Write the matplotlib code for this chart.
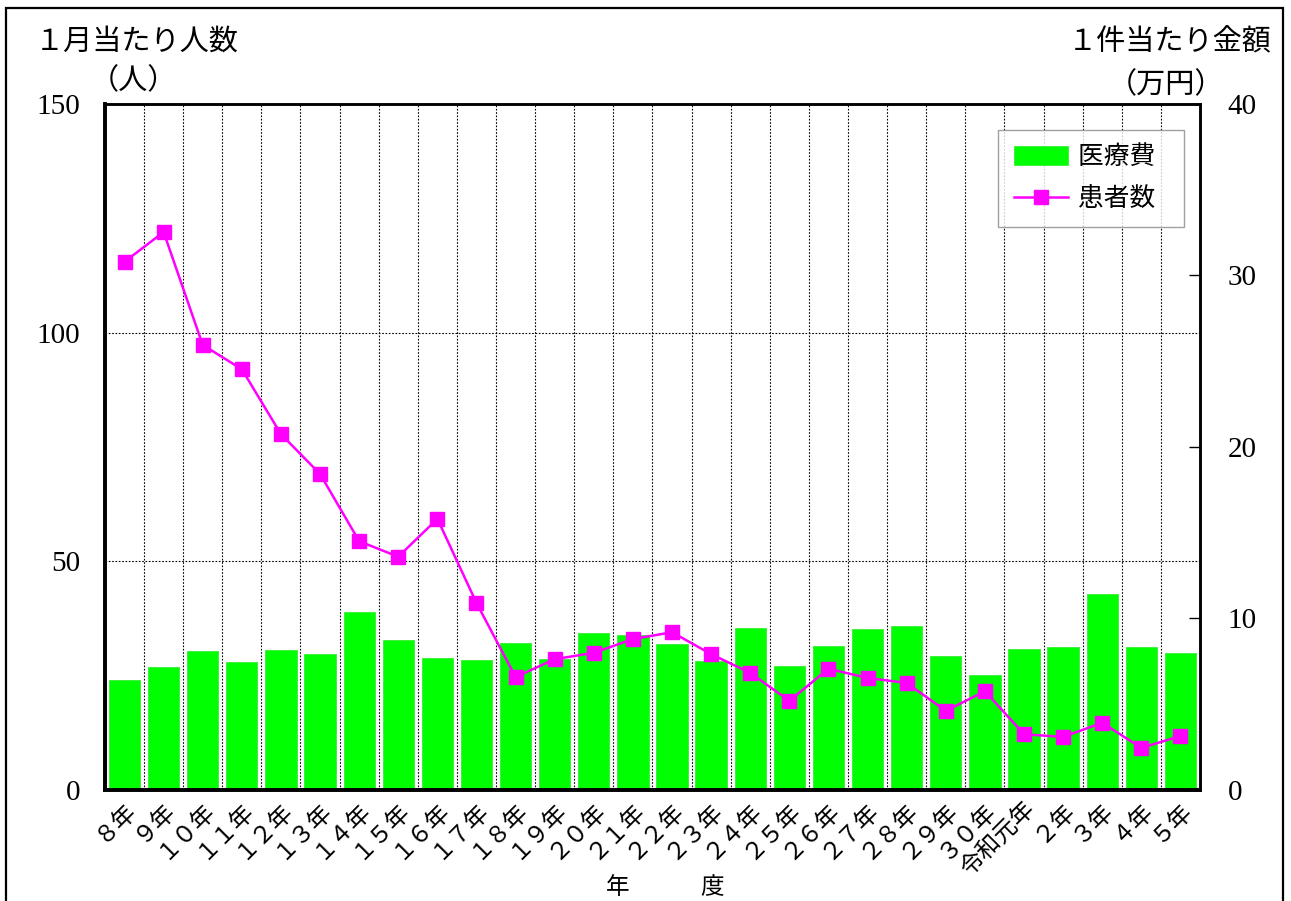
import matplotlib
matplotlib.use("Agg")
import matplotlib.pyplot as plt
from matplotlib.patches import Rectangle
import numpy as np

plt.rcParams['font.family'] = ['Liberation Serif', 'Noto Sans CJK JP', 'DejaVu Sans']

# fiscal years (Heisei 8 .. Reiwa 5)
years = ['８年', '９年', '１０年', '１１年', '１２年', '１３年', '１４年', '１５年',
         '１６年', '１７年', '１８年', '１９年', '２０年', '２１年', '２２年', '２３年',
         '２４年', '２５年', '２６年', '２７年', '２８年', '２９年', '３０年',
         '令和元年', '２年', '３年', '４年', '５年']

# 医療費: amount per case (万円), right axis
cost = [6.41, 7.17, 8.10, 7.46, 8.16, 7.93, 10.38, 8.75, 7.70, 7.58, 8.57, 7.64,
        9.15, 9.04, 8.51, 7.52, 9.45, 7.23, 8.40, 9.39, 9.56, 7.81, 6.71,
        8.22, 8.34, 11.43, 8.34, 7.99]

# 患者数: patients per month, left axis
patients = [115.5, 122.0, 97.3, 92.0, 77.8, 69.1, 54.4, 51.0, 59.3, 40.9, 24.7, 28.6,
            30.0, 33.0, 34.5, 29.7, 25.6, 19.5, 26.5, 24.5, 23.4, 17.3, 21.6,
            12.2, 11.6, 14.7, 9.2, 11.8]

fig = plt.figure(figsize=(12.91, 9.01), dpi=100)
ax1 = fig.add_axes([0.0813, 0.1232, 0.8482, 0.7614])
ax2 = ax1.twinx()
ax1.set_zorder(ax2.get_zorder() + 1)
ax1.patch.set_visible(False)

x = np.arange(len(years))
bars = ax2.bar(x, cost, width=0.8, color='#00ff00', edgecolor='#33ee33', linewidth=0.6,
               label='医療費')
line, = ax1.plot(x, patients, color='#ff00ff', lw=1.8, marker='s', markersize=10,
                 label='患者数')

ax1.set_xlim(-0.5, len(years) - 0.5)
ax1.set_ylim(0, 150)
ax2.set_ylim(0, 40)
ax1.set_yticks([0, 50, 100, 150])
ax2.set_yticks([0, 10, 20, 30, 40])

# dotted grid: category boundaries and every 50 on the left scale
for b in np.arange(0.5, len(years) - 0.5, 1):
    ax1.axvline(b, color='black', lw=0.8, ls=(0, (1.5, 1.5)), zorder=0)
for v in [50, 100]:
    ax1.axhline(v, color='black', lw=0.8, ls=(0, (1.5, 1.5)), zorder=0)

ax1.set_xticks(x)
ax1.set_xticklabels(years, rotation=45, ha='right', va='top', rotation_mode='anchor',
                    fontsize=17)
ax1.tick_params(axis='x', length=0, pad=6)
ax1.tick_params(axis='y', length=0, pad=18, labelsize=21)
ax2.tick_params(axis='y', direction='in', length=8, width=1, pad=20, labelsize=21)

for sp in ['left', 'bottom']:
    ax1.spines[sp].set_linewidth(2.6)
    ax2.spines[sp].set_linewidth(2.6)
for sp in ['top', 'right']:
    ax1.spines[sp].set_linewidth(1.8)
    ax2.spines[sp].set_linewidth(1.8)

leg = ax1.legend([bars, line], ['医療費  ', '患者数  '], loc='upper right',
                 bbox_to_anchor=(0.985, 0.962), borderaxespad=0, fontsize=18.5,
                 frameon=True, fancybox=False, edgecolor='#888888', handlelength=2.1,
                 handleheight=0.8, handletextpad=0.4, labelspacing=0.7, borderpad=0.6)
leg.get_frame().set_linewidth(1.0)

fig.text(0.027, 0.953, '１月当たり人数', fontsize=21, ha='left', va='center')
fig.text(0.103, 0.910, '（人）', fontsize=21, ha='center', va='center')
fig.text(0.985, 0.953, '１件当たり金額', fontsize=21, ha='right', va='center')
fig.text(0.903, 0.905, '（万円）', fontsize=21, ha='center', va='center')
fig.text(618 / 1291, 1 - 888 / 901, '年', fontsize=17, ha='center', va='center')
fig.text(712 / 1291, 1 - 888 / 901, '度', fontsize=17, ha='center', va='center')

fig.add_artist(Rectangle((6 / 1291, -0.01), 1277 / 1291, 1 - 8 / 901 + 0.01,
                         transform=fig.transFigure, fill=False, edgecolor='black',
                         linewidth=1.6))

fig.savefig('out.png', dpi=100)
